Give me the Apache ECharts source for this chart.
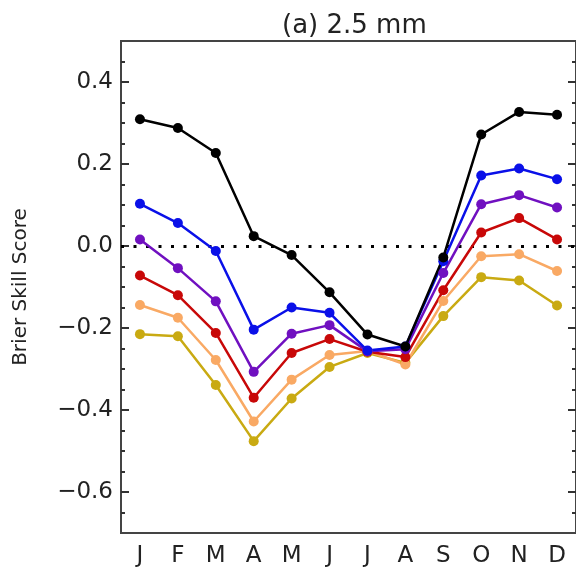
<!DOCTYPE html>
<html>
<head>
<meta charset="utf-8">
<script src="https://cdn.jsdelivr.net/npm/echarts@6/dist/echarts.min.js"></script>
<style>html,body{margin:0;padding:0;background:#fff;}#chart{width:576px;height:568px;}</style>
</head>
<body>
<div id="chart"></div>
<script>
const months = ['J','F','M','A','M','J','J','A','S','O','N','D'];
const seriesBlack  = [0.309, 0.288, 0.227, 0.024, -0.022, -0.113, -0.216, -0.245, -0.028, 0.272, 0.327, 0.320];
const seriesBlue   = [0.103, 0.056, -0.012, -0.204, -0.150, -0.163, -0.255, -0.245, -0.037, 0.172, 0.189, 0.163];
const seriesPurple = [0.016, -0.054, -0.135, -0.307, -0.214, -0.193, -0.257, -0.252, -0.066, 0.102, 0.124, 0.094];
const seriesRed    = [-0.072, -0.120, -0.212, -0.370, -0.261, -0.227, -0.258, -0.271, -0.108, 0.033, 0.068, 0.016];
const seriesOrange = [-0.144, -0.175, -0.278, -0.428, -0.326, -0.266, -0.256, -0.289, -0.134, -0.025, -0.020, -0.061];
const seriesGold   = [-0.215, -0.220, -0.339, -0.476, -0.372, -0.295, -0.261, -0.285, -0.171, -0.076, -0.084, -0.145];
const majorTicks = [-0.6, -0.4, -0.2, 0.0, 0.2, 0.4];
const minorTicks = [-0.65, -0.55, -0.5, -0.45, -0.35, -0.3, -0.25, -0.15, -0.1, -0.05, 0.05, 0.1, 0.15, 0.25, 0.3, 0.35, 0.45];
const yMin = -0.7, yMax = 0.5;

const FONT = 'DejaVu Sans';
const chart = echarts.init(document.getElementById('chart'), null, {renderer: 'canvas'});

function lineSeries(name, data, color, withZero) {
  const s = {
    name: name, type: 'line', data: data, yAxisIndex: 0,
    symbol: 'circle', symbolSize: 10,
    lineStyle: {color: color, width: 2.5},
    itemStyle: {color: color},
    animation: false, z: 5
  };
  if (withZero) {
    s.markLine = {
      silent: true, symbol: 'none', label: {show: false},
      lineStyle: {color: '#000', width: 3, type: [3, 9.5], cap: 'butt'},
      data: [{yAxis: 0}], animation: false
    };
  }
  return s;
}

function yAx(pos, ticks, len, showLabel, showName) {
  return {
    type: 'value', position: pos, min: yMin, max: yMax,
    axisLine: {show: false},
    splitLine: {show: false},
    axisTick: {show: true, inside: true, length: len, customValues: ticks,
               lineStyle: {color: '#333', width: 2}},
    axisLabel: {show: showLabel, customValues: majorTicks, margin: 8,
                fontFamily: FONT, fontSize: 23, color: '#222',
                formatter: v => (v < 0 ? '\u2212' : '') + Math.abs(v).toFixed(1)},
    name: showName ? 'Brier Skill Score' : '',
    nameLocation: 'middle', nameGap: 90,
    nameTextStyle: {fontFamily: FONT, fontSize: 20, color: '#222'}
  };
}

chart.setOption({
  animation: false,
  backgroundColor: '#fff',
  title: {
    text: '(a) 2.5 mm', left: 277, top: 8,
    textStyle: {fontFamily: FONT, fontSize: 26, fontWeight: 'normal', color: '#222'}
  },
  grid: {left: 121, top: 41, right: -1, bottom: 35, show: true,
         borderColor: '#444', borderWidth: 2, backgroundColor: 'transparent'},
  xAxis: {
    type: 'category', data: months, boundaryGap: true,
    axisLine: {show: false}, axisTick: {show: false}, splitLine: {show: false},
    axisLabel: {fontFamily: FONT, fontSize: 23, color: '#222', margin: 12, interval: 0}
  },
  yAxis: [
    yAx('left', majorTicks, 8, true, true),
    yAx('left', minorTicks, 4, false, false),
    yAx('right', majorTicks, 8, false, false),
    yAx('right', minorTicks, 4, false, false)
  ],
  series: [
    lineSeries('gold', seriesGold, '#c9aa12', true),
    lineSeries('orange', seriesOrange, '#f9a964', false),
    lineSeries('red', seriesRed, '#c80808', false),
    lineSeries('purple', seriesPurple, '#7010c0', false),
    lineSeries('blue', seriesBlue, '#0a10e8', false),
    lineSeries('black', seriesBlack, '#000000', false)
  ]
});
</script>
</body>
</html>
